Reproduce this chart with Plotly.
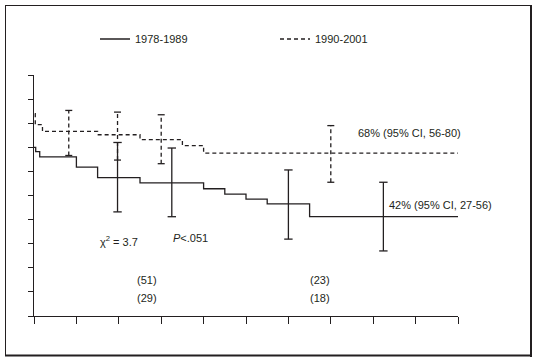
import plotly.graph_objects as go

# ---- data (years vs. percent) ----
solid_x = [0, 0.04, 0.135, 1.0, 1.5, 2.5, 4.0, 4.5, 5.0, 5.5, 6.5, 10]
solid_y = [70, 68.2, 66, 61.8, 57.4, 55.2, 52.8, 50.6, 48.5, 46.5, 41.2, 41.2]

dash_x = [0.02, 0.03, 0.2, 1.5, 2.5, 3.5, 4.0, 10]
dash_y = [84, 79.4, 76.6, 75.2, 73.2, 70.7, 67.6, 67.6]

solid_ci_x = [1.97, 3.25, 6.0, 8.24]
solid_ci_lo = [43.2, 41.2, 31.9, 27]
solid_ci_hi = [72, 69.7, 60.6, 55.5]

dash_ci_x = [0.82, 1.97, 3.0, 7.0]
dash_ci_lo = [66.6, 64.7, 63.2, 55.5]
dash_ci_hi = [85.3, 84.6, 83.5, 79]

series_names = ["1978-1989", "1990-2001"]
atrisk_x = [2.67, 6.74]
atrisk_top = ["(51)", "(23)"]
atrisk_bot = ["(29)", "(18)"]

INK = "#231f20"
FONT = dict(family="Liberation Sans, Arial, sans-serif", size=11, color=INK)
LW = 1.3


def bars(xs, lo, hi):
    bx, by = [], []
    for x, a, b in zip(xs, lo, hi):
        bx += [x, x, None]
        by += [a, b, None]
    return bx, by


fig = go.Figure()
fig.add_trace(go.Scatter(x=solid_x, y=solid_y, mode="lines", line=dict(color=INK, width=LW, shape="hv"),
                         name=series_names[0]))
fig.add_trace(go.Scatter(x=dash_x, y=dash_y, mode="lines", line=dict(color=INK, width=LW, shape="hv", dash="4px,3px"),
                         name=series_names[1]))

bx, by = bars(solid_ci_x, solid_ci_lo, solid_ci_hi)
fig.add_trace(go.Scatter(x=bx, y=by, mode="lines+markers", showlegend=False,
                         line=dict(color=INK, width=LW),
                         marker=dict(symbol="line-ew", size=6, line=dict(color=INK, width=LW))))
bx, by = bars(dash_ci_x, dash_ci_lo, dash_ci_hi)
fig.add_trace(go.Scatter(x=bx, y=by, mode="lines+markers", showlegend=False,
                         line=dict(color=INK, width=LW, dash="4px,3px"),
                         marker=dict(symbol="line-ew", size=5, line=dict(color=INK, width=LW))))

ann = [
    dict(x=2.0, y=31, text="χ<sup>2</sup> = 3.7", xanchor="center"),
    dict(x=3.7, y=32.5, text="<i>P</i><.051", xanchor="center"),
    dict(x=7.6, y=76, text="68% (95% CI, 56-80)", xanchor="left"),
    dict(x=8.33, y=46.2, text="42% (95% CI, 27-56)", xanchor="left"),
]
for x, t, b in zip(atrisk_x, atrisk_top, atrisk_bot):
    ann.append(dict(x=x, y=15, text=t, xanchor="center"))
    ann.append(dict(x=x, y=7.6, text=b, xanchor="center"))
for a in ann:
    a.update(xref="x", yref="y", showarrow=False, yanchor="middle", font=FONT)

L, R, T, B, W, H = 34, 78, 75, 46, 536, 362
pw, ph = W - L - R, H - T - B


def px_x(p):
    return (p - L) / pw


def px_y(p):
    return (H - B - p) / ph


shapes = [
    dict(type="line", xref="paper", yref="paper", x0=px_x(5.5), x1=px_x(5.5), y0=px_y(5), y1=px_y(356), line=dict(color=INK, width=1)),
    dict(type="line", xref="paper", yref="paper", x0=px_x(5), x1=px_x(532), y0=px_y(5.5), y1=px_y(5.5), line=dict(color=INK, width=1)),
    dict(type="line", xref="paper", yref="paper", x0=px_x(531), x1=px_x(531), y0=px_y(5), y1=px_y(357), line=dict(color=INK, width=2)),
    dict(type="line", xref="paper", yref="paper", x0=px_x(5), x1=px_x(532), y0=px_y(355.5), y1=px_y(355.5), line=dict(color=INK, width=2)),
]

fig.update_layout(
    width=W, height=H, margin=dict(l=L, r=R, t=T, b=B, autoexpand=False),
    paper_bgcolor="white", plot_bgcolor="white",
    font=FONT, annotations=ann, shapes=shapes,
    legend=dict(orientation="h", x=px_x(95), y=px_y(39), xanchor="left", yanchor="middle",
                bgcolor="rgba(0,0,0,0)", entrywidth=135, entrywidthmode="pixels", font=FONT),
    xaxis=dict(range=[0, 10], tickmode="linear", tick0=0, dtick=1, ticks="outside", ticklen=7,
               tickcolor=INK, tickwidth=1, showticklabels=False, showgrid=False, zeroline=False,
               showline=True, linecolor=INK, linewidth=1),
    yaxis=dict(range=[0, 100], tickmode="linear", tick0=0, dtick=10, ticks="outside", ticklen=5,
               tickcolor=INK, tickwidth=1, showticklabels=False, showgrid=False, zeroline=False,
               showline=True, linecolor=INK, linewidth=1),
)

fig.write_html("out.html", config={"displayModeBar": False},
               post_script="document.body.style.margin='0';document.body.style.padding='0';")
